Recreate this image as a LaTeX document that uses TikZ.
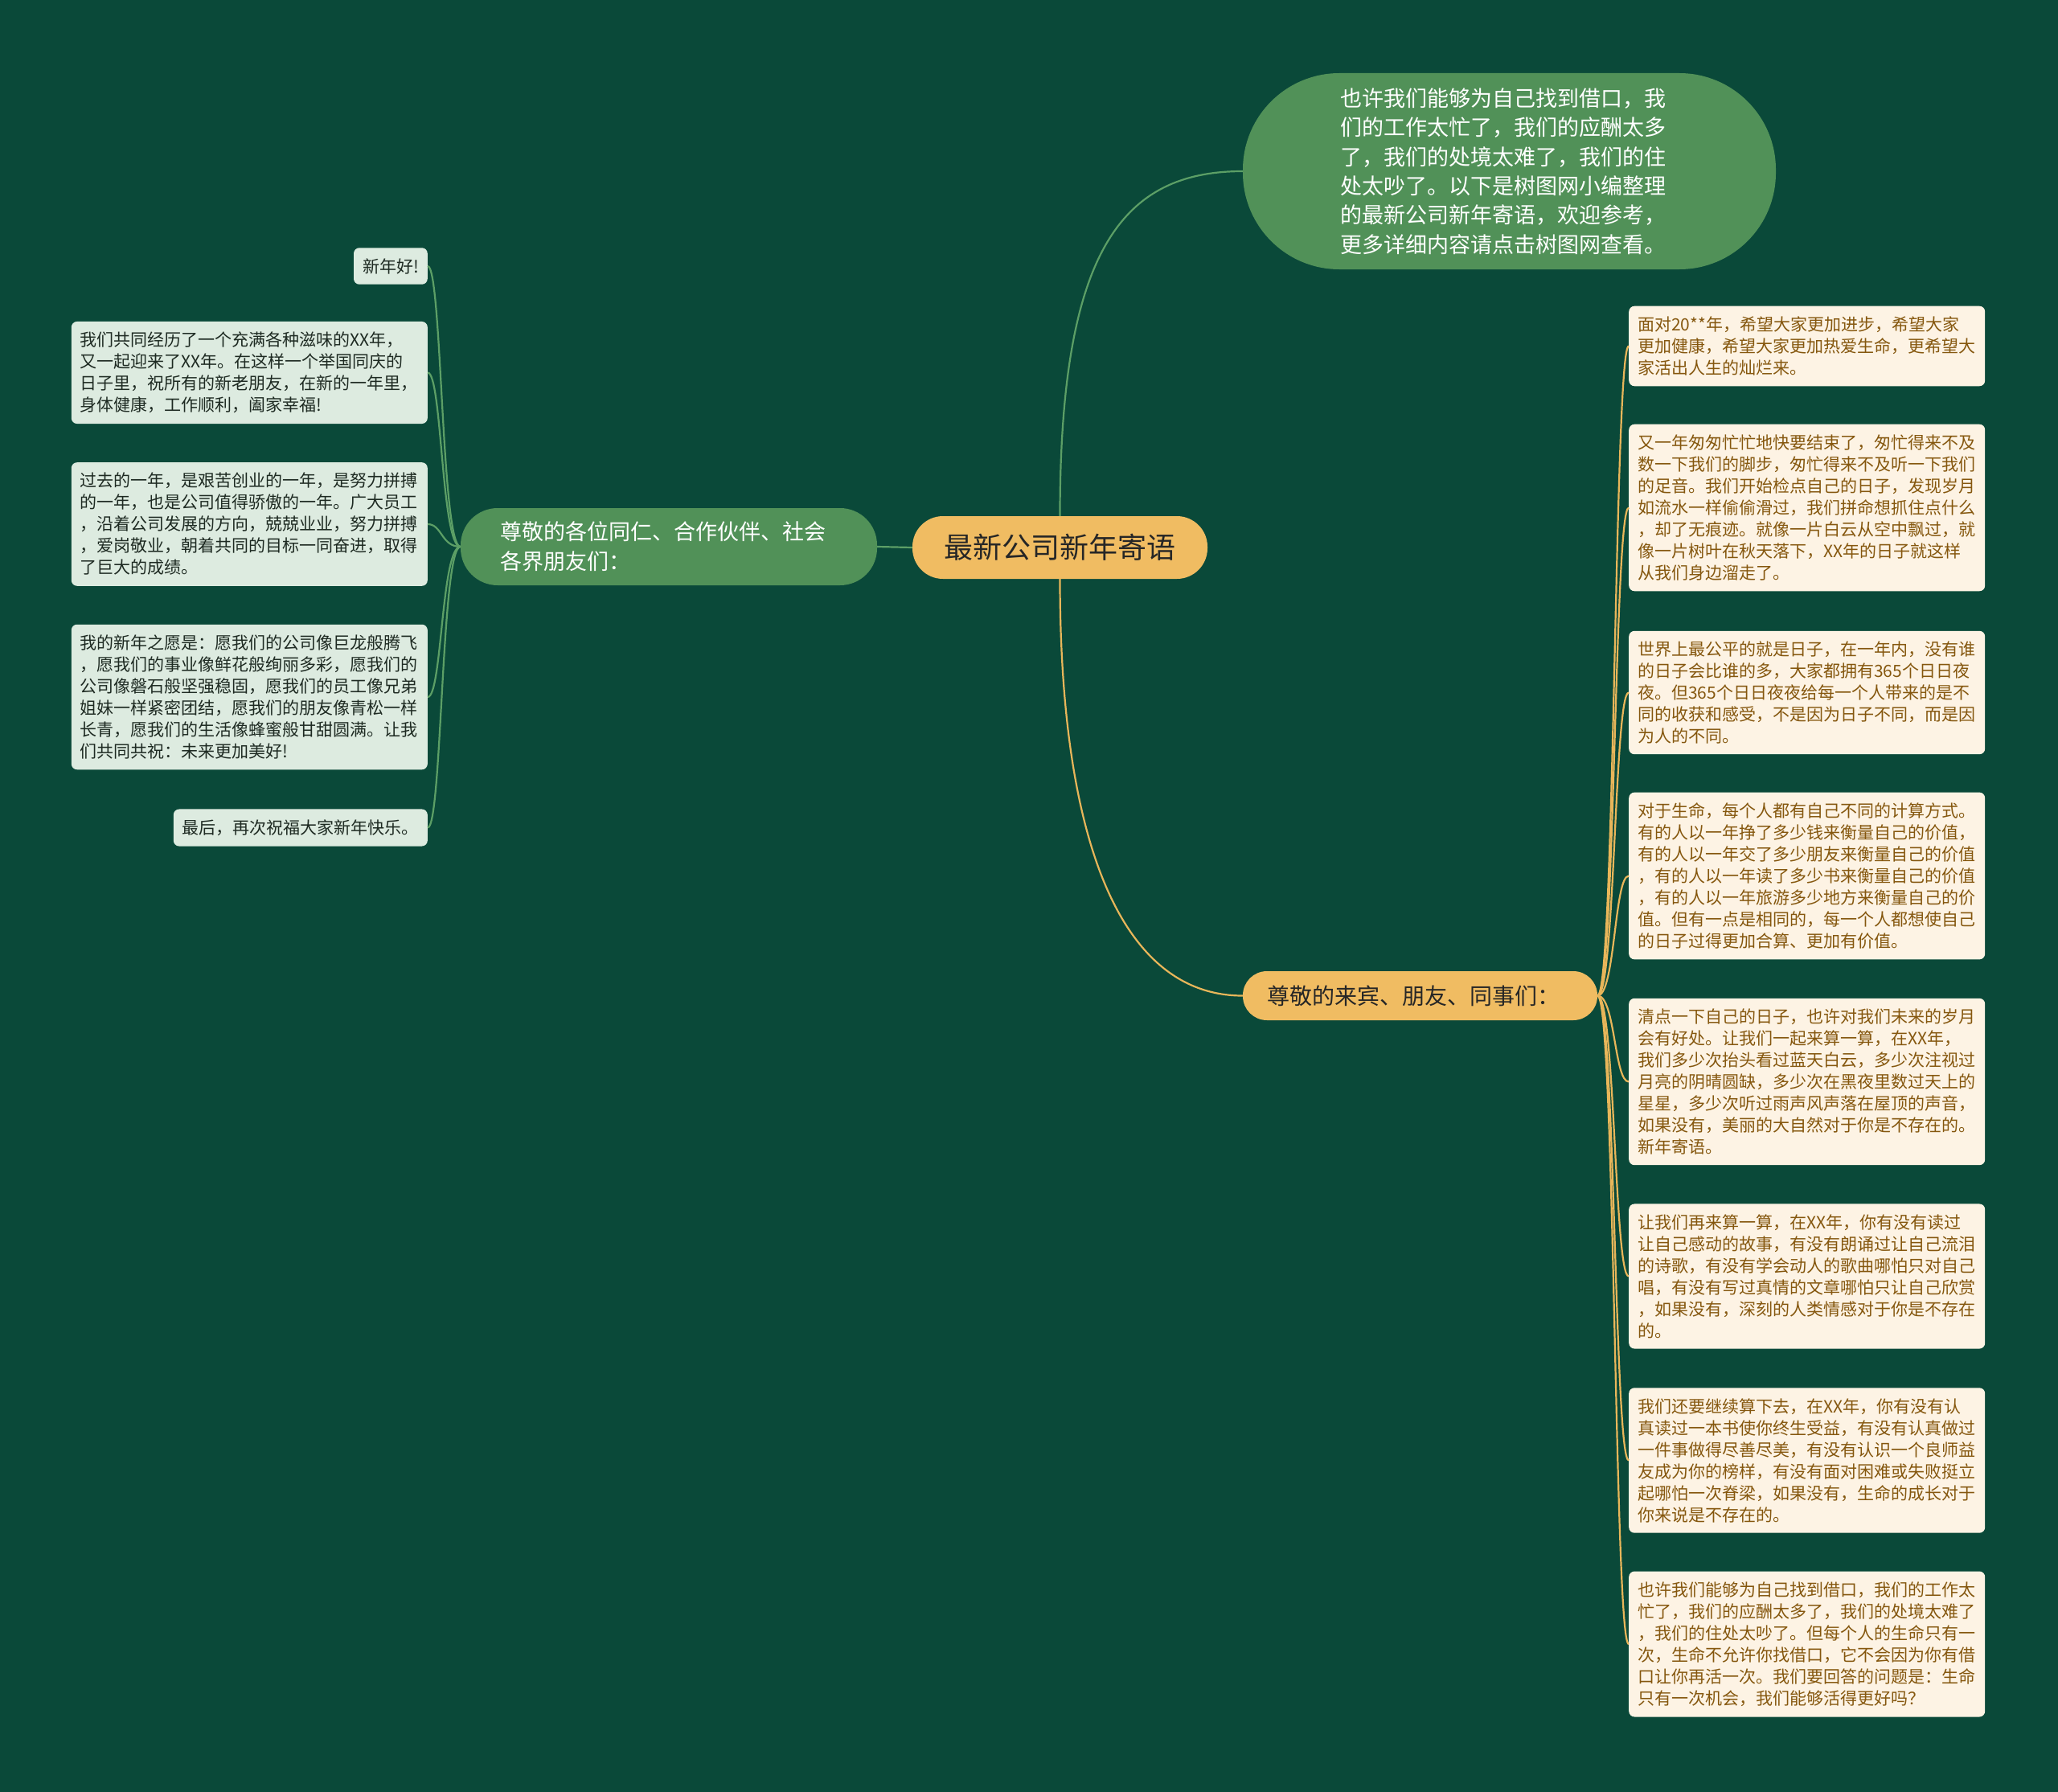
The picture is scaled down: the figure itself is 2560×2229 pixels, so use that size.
\documentclass[tikz,border=0pt]{standalone}
\usepackage{fontspec}
\newfontfamily\cjk{Noto Sans CJK SC}
\definecolor{bgc}{HTML}{0A4939}
\definecolor{gnode}{HTML}{519158}
\definecolor{onode}{HTML}{F0BC62}
\definecolor{mint}{HTML}{DDEBE0}
\definecolor{cream}{HTML}{FDF3E4}
\definecolor{brownt}{HTML}{85570E}
\definecolor{darkt}{HTML}{1E2A22}
\definecolor{gline}{HTML}{5C9F66}
\definecolor{oline}{HTML}{E8B65A}
\tikzset{
  leafbase/.style={inner xsep=11pt, inner ysep=13pt, rounded corners=7pt, align=left},
  rleaf/.style={leafbase, fill=cream, text=brownt, font=\cjk\fontsize{21}{27}\selectfont, text width=421pt, anchor=west},
  lleaf/.style={leafbase, fill=mint, text=darkt, font=\cjk\fontsize{21}{27}\selectfont, anchor=east},
  lleafw/.style={lleaf, text width=421pt},
  gline/.style={draw=gline, line width=2.2pt},
  oline/.style={draw=oline, line width=2.2pt}
}
\begin{document}
\begin{tikzpicture}[x=1pt,y=-1pt]
\fill[bgc] (0,0) rectangle (2560,2229);
\useasboundingbox (0,0) rectangle (2560,2229);

% main nodes
\node[fill=onode, text=black!85, font=\cjk\fontsize{36}{40}\selectfont, minimum width=367pt, minimum height=78pt, rounded corners=38pt, inner sep=0pt] (central) at (1318.5,681) {最新公司新年寄语};

\node[fill=gnode, text=white, font=\cjk\fontsize{27}{37}\selectfont, text width=420pt, align=left, minimum width=518pt, minimum height=96pt, rounded corners=46pt, inner sep=0pt] (lbranch) at (832,680) {尊敬的各位同仁、合作伙伴、社会\\各界朋友们：};

\node[fill=gnode, text=white, font=\cjk\fontsize{27}{36.3}\selectfont, text width=421pt, align=left, minimum width=663pt, minimum height=244pt, rounded corners=120pt, inner sep=0pt] (top) at (1877.5,213) {也许我们能够为自己找到借口，我\\们的工作太忙了，我们的应酬太多\\了，我们的处境太难了，我们的住\\处太吵了。以下是树图网小编整理\\的最新公司新年寄语，欢迎参考，\\更多详细内容请点击树图网查看。};

\node[fill=onode, text=black!85, font=\cjk\fontsize{28}{32}\selectfont, text width=380pt, align=left, inner xsep=30.5pt, inner ysep=0pt, minimum height=61pt, rounded corners=30pt] (rbranch) at (1766.5,1238.5) {尊敬的来宾、朋友、同事们：};

% left leaves
\node[lleaf] (l1) at (532,331) {新年好!};
\node[lleafw] (l2) at (532,463.5) {我们共同经历了一个充满各种滋味的XX年，\\又一起迎来了XX年。在这样一个举国同庆的\\日子里，祝所有的新老朋友，在新的一年里，\\身体健康，工作顺利，阖家幸福!};
\node[lleafw] (l3) at (532,652) {过去的一年，是艰苦创业的一年，是努力拼搏\\的一年，也是公司值得骄傲的一年。广大员工\\，沿着公司发展的方向，兢兢业业，努力拼搏\\，爱岗敬业，朝着共同的目标一同奋进，取得\\了巨大的成绩。};
\node[lleafw] (l4) at (532,867) {我的新年之愿是：愿我们的公司像巨龙般腾飞\\，愿我们的事业像鲜花般绚丽多彩，愿我们的\\公司像磐石般坚强稳固，愿我们的员工像兄弟\\姐妹一样紧密团结，愿我们的朋友像青松一样\\长青，愿我们的生活像蜂蜜般甘甜圆满。让我\\们共同共祝：未来更加美好!};
\node[lleaf] (l5) at (532,1029.5) {最后，再次祝福大家新年快乐。};

% right leaves
\node[rleaf] (r1) at (2026,430.5) {面对20**年，希望大家更加进步，希望大家\\更加健康，希望大家更加热爱生命，更希望大\\家活出人生的灿烂来。};
\node[rleaf] (r2) at (2026,631.5) {又一年匆匆忙忙地快要结束了，匆忙得来不及\\数一下我们的脚步，匆忙得来不及听一下我们\\的足音。我们开始检点自己的日子，发现岁月\\如流水一样偷偷滑过，我们拼命想抓住点什么\\，却了无痕迹。就像一片白云从空中飘过，就\\像一片树叶在秋天落下，XX年的日子就这样\\从我们身边溜走了。};
\node[rleaf] (r3) at (2026,861.5) {世界上最公平的就是日子，在一年内，没有谁\\的日子会比谁的多，大家都拥有365个日日夜\\夜。但365个日日夜夜给每一个人带来的是不\\同的收获和感受，不是因为日子不同，而是因\\为人的不同。};
\node[rleaf] (r4) at (2026,1089.5) {对于生命，每个人都有自己不同的计算方式。\\有的人以一年挣了多少钱来衡量自己的价值，\\有的人以一年交了多少朋友来衡量自己的价值\\，有的人以一年读了多少书来衡量自己的价值\\，有的人以一年旅游多少地方来衡量自己的价\\值。但有一点是相同的，每一个人都想使自己\\的日子过得更加合算、更加有价值。};
\node[rleaf] (r5) at (2026,1345.5) {清点一下自己的日子，也许对我们未来的岁月\\会有好处。让我们一起来算一算，在XX年，\\我们多少次抬头看过蓝天白云，多少次注视过\\月亮的阴晴圆缺，多少次在黑夜里数过天上的\\星星，多少次听过雨声风声落在屋顶的声音，\\如果没有，美丽的大自然对于你是不存在的。\\新年寄语。};
\node[rleaf] (r6) at (2026,1587.5) {让我们再来算一算，在XX年，你有没有读过\\让自己感动的故事，有没有朗诵过让自己流泪\\的诗歌，有没有学会动人的歌曲哪怕只对自己\\唱，有没有写过真情的文章哪怕只让自己欣赏\\，如果没有，深刻的人类情感对于你是不存在\\的。};
\node[rleaf] (r7) at (2026,1816.5) {我们还要继续算下去，在XX年，你有没有认\\真读过一本书使你终生受益，有没有认真做过\\一件事做得尽善尽美，有没有认识一个良师益\\友成为你的榜样，有没有面对困难或失败挺立\\起哪怕一次脊梁，如果没有，生命的成长对于\\你来说是不存在的。};
\node[rleaf] (r8) at (2026,2045) {也许我们能够为自己找到借口，我们的工作太\\忙了，我们的应酬太多了，我们的处境太难了\\，我们的住处太吵了。但每个人的生命只有一\\次，生命不允许你找借口，它不会因为你有借\\口让你再活一次。我们要回答的问题是：生命\\只有一次机会，我们能够活得更好吗？};

% connectors from central
\draw[gline] (central.west) -- (lbranch.east);
\draw[gline] (central.north) .. controls +(0,-330) and +(-150,0) .. (top.west);
\draw[oline] (central.south) .. controls +(0,330) and +(-150,0) .. (rbranch.west);

% left branch to leaves
\foreach \n in {l1,l2,l3,l4,l5}{
  \draw[gline] (lbranch.west) .. controls +(-24,0) and +(18,0) .. (\n.east);
}
% right branch to leaves
\foreach \n in {r1,r2,r3,r4,r5,r6,r7,r8}{
  \draw[oline] (rbranch.east) .. controls +(22,0) and +(-18,0) .. (\n.west);
}
\end{tikzpicture}
\end{document}
